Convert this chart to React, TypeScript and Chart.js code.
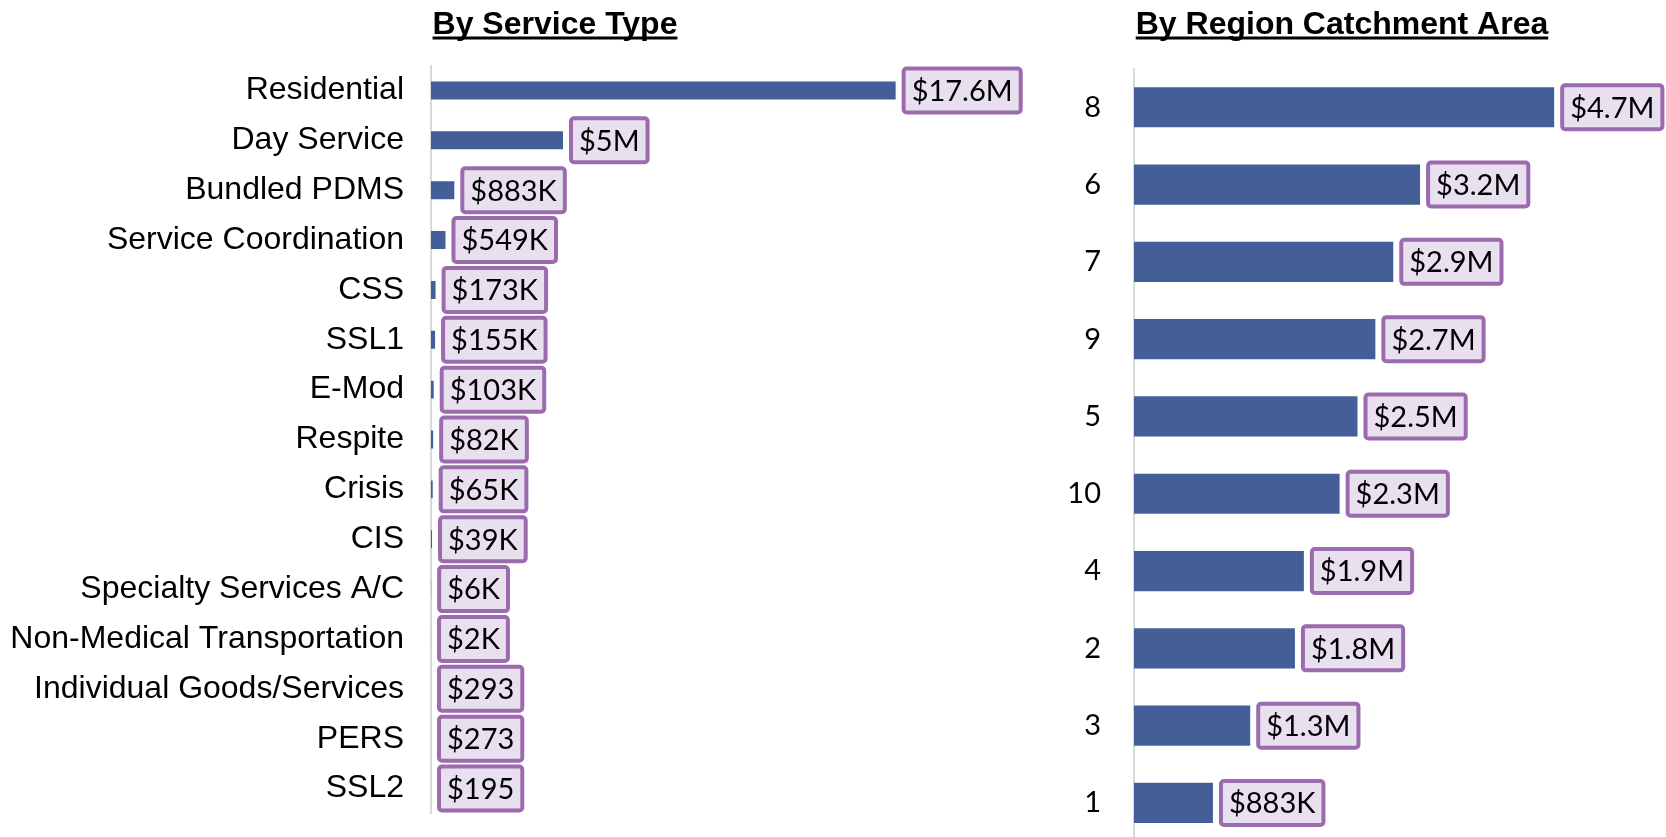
import React, { useEffect, useRef } from "react";
import { Chart, registerables } from "chart.js";

Chart.register(...registerables);

// ---- Data ----
const serviceTitle = "By Service Type";
const serviceCategories = [
  "Residential",
  "Day Service",
  "Bundled PDMS",
  "Service Coordination",
  "CSS",
  "SSL1",
  "E-Mod",
  "Respite",
  "Crisis",
  "CIS",
  "Specialty Services A/C",
  "Non-Medical Transportation",
  "Individual Goods/Services",
  "PERS",
  "SSL2",
];
const serviceValues = [
  17600000, 5000000, 883000, 549000, 173000, 155000, 103000, 82000, 65000,
  39000, 6000, 2000, 293, 273, 195,
];
const serviceAxisMax = 20000000;

const regionTitle = "By Region Catchment Area";
const regionCategories = ["8", "6", "7", "9", "5", "10", "4", "2", "3", "1"];
const regionValues = [
  4700000, 3200000, 2900000, 2700000, 2500000, 2300000, 1900000, 1800000,
  1300000, 883000,
];
const regionAxisMax = 5000000;

// ---- Styles ----
const BAR_COLOR = "#445f97";
const BOX_FILL = "#e8e0ef";
const BOX_BORDER = "#9b6bad";
const AXIS_COLOR = "#d9d9d9";
const ARIAL = '"Liberation Sans", Arial, sans-serif';
const LABEL_FONT = 'Lato, "Open Sans", sans-serif';

function formatMoney(v: number): string {
  if (v >= 1e6) return "$" + Math.round(v / 1e5) / 10 + "M";
  if (v >= 1e3) return "$" + Math.round(v / 1e3) + "K";
  return "$" + v;
}

const sectionTitlePlugin = {
  id: "sectionTitle",
  afterDraw(chart: any, _args: any, opts: any) {
    if (!opts || !opts.text) return;
    const ctx = chart.ctx;
    ctx.save();
    ctx.font = `bold ${opts.size}px ${ARIAL}`;
    ctx.fillStyle = "#000";
    ctx.textAlign = "center";
    ctx.textBaseline = "alphabetic";
    ctx.fillText(opts.text, opts.x, opts.y);
    const w = ctx.measureText(opts.text).width;
    ctx.fillRect(opts.x - w / 2, opts.y + 2.5, w, 3);
    ctx.restore();
  },
};

const valueBoxPlugin = {
  id: "valueBoxes",
  afterDatasetsDraw(chart: any, _args: any, opts: any) {
    const ctx = chart.ctx;
    const meta = chart.getDatasetMeta(0);
    const data = chart.data.datasets[0].data as number[];
    ctx.save();
    ctx.font = `${opts.fontSize}px ${LABEL_FONT}`;
    meta.data.forEach((bar: any, i: number) => {
      const label = formatMoney(data[i]);
      const tw = ctx.measureText(label).width;
      const bw = opts.border;
      const w = tw + 2 * opts.padX + 2 * bw;
      const h = opts.height;
      const x0 = bar.x + opts.gap;
      const y0 = bar.y - h / 2;
      ctx.beginPath();
      ctx.roundRect(x0 + bw / 2, y0 + bw / 2, w - bw, h - bw, 3);
      ctx.fillStyle = BOX_FILL;
      ctx.fill();
      ctx.lineWidth = bw;
      ctx.strokeStyle = BOX_BORDER;
      ctx.stroke();
      ctx.fillStyle = "#000";
      ctx.textAlign = "left";
      ctx.textBaseline = "middle";
      ctx.fillText(label, x0 + bw + opts.padX, bar.y + 1);
    });
    ctx.restore();
  },
};

function makeConfig(
  labels: string[],
  values: number[],
  max: number,
  cfg: any
): any {
  return {
    type: "bar",
    data: {
      labels,
      datasets: [
        {
          data: values,
          backgroundColor: BAR_COLOR,
          borderWidth: 0,
          barPercentage: cfg.barPercentage,
          categoryPercentage: 1,
        },
      ],
    },
    plugins: [sectionTitlePlugin, valueBoxPlugin],
    options: {
      indexAxis: "y",
      animation: false,
      responsive: false,
      maintainAspectRatio: false,
      layout: { padding: cfg.padding },
      scales: {
        x: { display: false, min: 0, max },
        y: {
          grid: { display: false, drawTicks: false },
          border: { display: true, color: AXIS_COLOR, width: 2 },
          ticks: {
            autoSkip: false,
            padding: cfg.tickPadding,
            color: "#000",
            font: { family: cfg.tickFamily, size: cfg.tickSize },
          },
          afterFit: (s: any) => {
            s.width = cfg.axisWidth;
            s.paddingTop = 0;
            s.paddingBottom = 0;
          },
        },
      },
      plugins: {
        legend: { display: false },
        tooltip: { enabled: false },
        sectionTitle: { text: cfg.title, x: cfg.titleX, y: 34, size: 32 },
        valueBoxes: {
          fontSize: 29,
          border: 4,
          padX: 6,
          height: 48,
          gap: 6,
        },
      },
    },
  };
}

function BarPanel(props: {
  width: number;
  height: number;
  left: number;
  config: any;
}) {
  const ref = useRef<HTMLCanvasElement | null>(null);
  useEffect(() => {
    if (!ref.current) return;
    const chart = new Chart(ref.current, props.config);
    return () => chart.destroy();
  }, []);
  return (
    <div
      style={{
        position: "absolute",
        left: props.left,
        top: 0,
        width: props.width,
        height: props.height,
      }}
    >
      <canvas
        ref={ref}
        width={props.width}
        height={props.height}
        style={{ display: "block", width: props.width, height: props.height }}
      />
    </div>
  );
}

export default function App() {
  const leftConfig = makeConfig(serviceCategories, serviceValues, serviceAxisMax, {
    barPercentage: 0.36,
    padding: { left: 0, right: 81, top: 65.5, bottom: 23.5 },
    tickPadding: 27,
    tickFamily: ARIAL,
    tickSize: 32,
    axisWidth: 431,
    title: serviceTitle,
    titleX: 555,
  });
  const rightConfig = makeConfig(regionCategories, regionValues, regionAxisMax, {
    barPercentage: 0.52,
    padding: { left: 0, right: 85, top: 68.6, bottom: 3.4 },
    tickPadding: 33,
    tickFamily: LABEL_FONT,
    tickSize: 29,
    axisWidth: 94,
    title: regionTitle,
    titleX: 302,
  });
  return (
    <div
      style={{
        position: "fixed",
        left: 0,
        top: 0,
        width: 1666,
        height: 837,
        overflow: "hidden",
        background: "#fff",
      }}
    >
      <BarPanel left={0} width={1040} height={837} config={leftConfig} />
      <BarPanel left={1040} width={626} height={845} config={rightConfig} />
    </div>
  );
}
